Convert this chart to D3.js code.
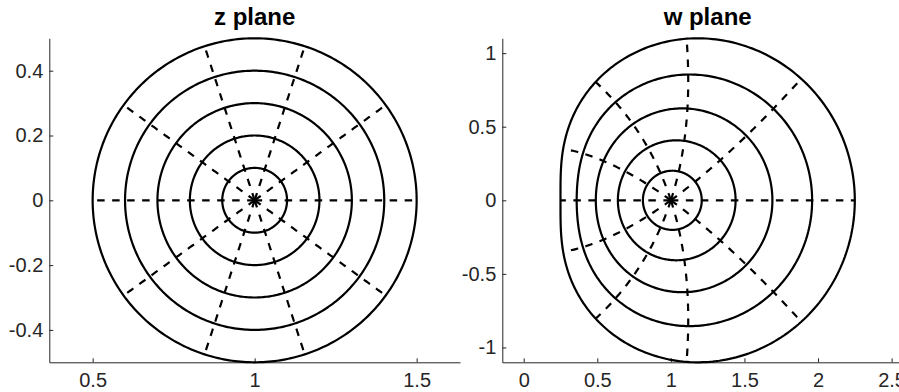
<!DOCTYPE html>
<html>
<head>
<meta charset="utf-8">
<script src="https://cdn.jsdelivr.net/npm/d3@7"></script>
<style>
  body { margin: 0; background: #fff; }
  svg { display: block; }
  .tick text { font-family: "Liberation Sans", Arial, Helvetica, sans-serif; font-size: 20px; fill: #262626; }
  .title { font-family: "Liberation Sans", Arial, Helvetica, sans-serif; font-size: 24px; font-weight: bold; fill: #000; }
</style>
</head>
<body>
<div class="container-chart"></div>
<script>
/* --------------------------------------------------------- */
/* DATA                                                      */
/* --------------------------------------------------------- */
const center = [1, 0];                       // z0
const radii = [0.1, 0.2, 0.3, 0.4, 0.5];     // circles |z - z0| = r
const rayAngles = [0, 36, 72, 108, 144, 180, 216, 252, 288, 324]; // degrees
const titles = ["z plane", "w plane"];
const zTicksX = [0.5, 1, 1.5];
const zTicksY = [-0.4, -0.2, 0, 0.2, 0.4];
const wTicksX = [0, 0.5, 1, 1.5, 2, 2.5];
const wTicksY = [-1, -0.5, 0, 0.5, 1];

/* --------------------------------------------------------- */
/* GEOMETRY                                                  */
/* --------------------------------------------------------- */
// w = z^2
function square(p) { return [p[0] * p[0] - p[1] * p[1], 2 * p[0] * p[1]]; }
function ident(p) { return p; }

function circlePoints(r) {
    return d3.range(0, 361).map(function (a) {
        const t = a / 180 * Math.PI;
        return [center[0] + r * Math.cos(t), center[1] + r * Math.sin(t)];
    });
}
function rayPoints(deg) {
    const rMax = d3.max(radii);
    const t = deg / 180 * Math.PI;
    return d3.range(0, 101).map(function (i) {
        const r = rMax * i / 100;
        return [center[0] + r * Math.cos(t), center[1] + r * Math.sin(t)];
    });
}

const width = 899, height = 392;
const box = { top: 38.3, bottom: 362.3, w: 410.7 };

const svg = d3.select(".container-chart")
    .append("svg")
    .attr("width", width)
    .attr("height", height);

const panels = [
    { left: 49.3, map: ident, ticksX: zTicksX, ticksY: zTicksY, title: titles[0] },
    { left: 502.3, map: square, ticksX: wTicksX, ticksY: wTicksY, title: titles[1] }
];

panels.forEach(function (p) {
    const circles = radii.map(function (r) { return circlePoints(r).map(p.map); });
    const rays = rayAngles.map(function (a) { return rayPoints(a).map(p.map); });

    // axis equal, tight in y
    const all = circles.flat();
    const xExt = d3.extent(all, function (d) { return d[0]; });
    const yExt = d3.extent(all, function (d) { return d[1]; });
    const boxH = box.bottom - box.top;
    const k = boxH / (yExt[1] - yExt[0]);
    const xc = (xExt[0] + xExt[1]) / 2;
    const halfW = box.w / 2 / k;

    const x = d3.scaleLinear().domain([xc - halfW, xc + halfW]).range([p.left, p.left + box.w]);
    const y = d3.scaleLinear().domain(yExt).range([box.bottom, box.top]);

    const line = d3.line()
        .x(function (d) { return x(d[0]); })
        .y(function (d) { return y(d[1]); });

    const g = svg.append("g");

    // axes (box off, ticks pointing in)
    g.append("g")
        .attr("transform", "translate(0," + box.bottom + ")")
        .call(d3.axisBottom(x).tickValues(p.ticksX).tickFormat(d3.format("")).tickSizeInner(-4).tickSizeOuter(0).tickPadding(11))
        .call(function (a) { a.selectAll("path, line").attr("stroke", "#262626"); });
    g.append("g")
        .attr("transform", "translate(" + p.left + ",0)")
        .call(d3.axisLeft(y).tickValues(p.ticksY).tickFormat(d3.format("")).tickSizeInner(-4).tickSizeOuter(0).tickPadding(6))
        .call(function (a) { a.selectAll("path, line").attr("stroke", "#262626"); });
    g.selectAll(".tick text").text(function (d) { return String(d).replace("\u2212", "-"); });

    g.selectAll(".circ")
        .data(circles)
        .enter().append("path")
        .attr("class", "circ")
        .attr("d", line)
        .attr("fill", "none")
        .attr("stroke", "#000")
        .attr("stroke-width", 2.2);

    g.selectAll(".ray")
        .data(rays)
        .enter().append("path")
        .attr("class", "ray")
        .attr("d", line)
        .attr("fill", "none")
        .attr("stroke", "#000")
        .attr("stroke-width", 2.2)
        .attr("stroke-dasharray", "7.5,7.5");

    g.append("text")
        .attr("class", "title")
        .attr("x", p.left + box.w / 2)
        .attr("y", 24.5)
        .attr("text-anchor", "middle")
        .text(p.title);
});
</script>
</body>
</html>
